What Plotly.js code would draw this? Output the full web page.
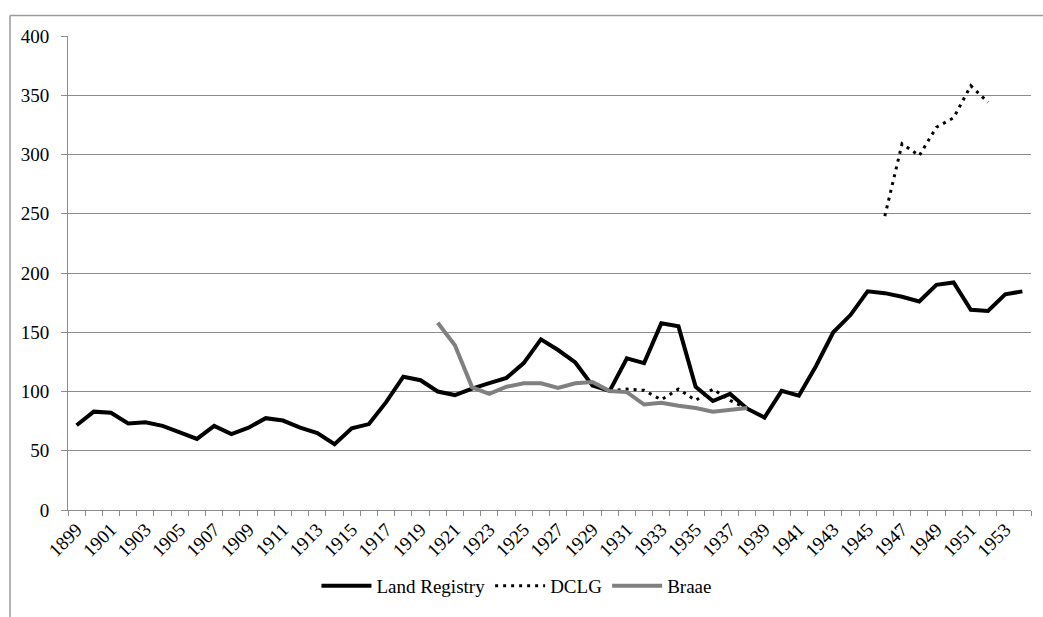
<!DOCTYPE html>
<html>
<head>
<meta charset="utf-8">
<script src="https://cdn.plot.ly/plotly-3.0.1.min.js"></script>
<style>
html,body{margin:0;padding:0;background:#fff;}
#chart{width:1043px;height:617px;}
#chart text{font-family:"Liberation Serif","Times New Roman",serif !important;}
</style>
</head>
<body>
<div id="chart"></div>
<script>
const years = [];
for (let y = 1899; y <= 1954; y++) years.push(y);

const landRegistry = [71.5,83,82,73,74,71,65.5,60,71,64,69.5,77.5,75.5,69.5,65,55.5,69,72.5,91,112.5,
  109.5,100,97,102.5,107,111.5,124,144,135,124.5,105,100.5,128,124,157.5,155,104,92,98,85.5,
  78,100.5,96.5,121.5,150,164.5,184.5,183,180,176,190,192,169,168,182,184.5];

const dclg = [null,null,null,null,null,null,null,null,null,null,null,null,null,null,null,null,null,null,null,null,
  null,null,null,null,null,null,null,null,null,null,null,100.5,102,101,93,102,92.5,102,92.5,85.5,
  null,null,null,null,null,null,null,248,309,299,323,331,358,344,null,null];

const braae = [null,null,null,null,null,null,null,null,null,null,null,null,null,null,null,null,null,null,null,null,
  null,158,139,103.5,98,104,107,107,103,107,108,100.5,99.5,89,90.5,88,86,83,84.5,86,
  null,null,null,null,null,null,null,null,null,null,null,null,null,null,null,null];

const labelYears = years.filter(y => (y - 1899) % 2 === 0);
const FONT = "Liberation Serif";

const traces = [
  {x: years, y: landRegistry, name: "Land Registry", type: "scatter", mode: "lines",
   line: {color: "#000000", width: 4}, connectgaps: false},
  {x: years, y: dclg, name: "DCLG", type: "scatter", mode: "lines",
   line: {color: "#000000", width: 3, dash: "3px,5px"}, connectgaps: false},
  {x: years, y: braae, name: "Braae", type: "scatter", mode: "lines",
   line: {color: "#808080", width: 4}, connectgaps: false}
];

const layout = {
  width: 1043, height: 617,
  margin: {l: 68, r: 12, t: 36, b: 105},
  paper_bgcolor: "#ffffff", plot_bgcolor: "#ffffff",
  font: {family: FONT, size: 19, color: "#000000"},
  showlegend: true,
  legend: {orientation: "h", x: 0.258, xanchor: "left", y: -0.16, yanchor: "middle",
           font: {family: FONT, size: 19, color: "#000000"}, itemwidth: 50,
           bgcolor: "rgba(0,0,0,0)"},
  xaxis: {
    range: [1898.5, 1954.5], tickmode: "array", tickvals: labelYears,
    ticktext: labelYears.map(String), tickangle: -45,
    ticks: "", showgrid: false, zeroline: false,
    showline: true, linecolor: "#8c8c8c", linewidth: 1,
    tickfont: {family: FONT, size: 19, color: "#000000"},
    minor: {tickmode: "linear", tick0: 1898.5, dtick: 1, ticks: "outside", ticklen: 5,
            tickcolor: "#8c8c8c", tickwidth: 1, showgrid: false}
  },
  yaxis: {
    range: [0, 400], dtick: 50, tick0: 0,
    ticks: "outside", ticklen: 6, tickcolor: "#8c8c8c", tickwidth: 1,
    showgrid: true, gridcolor: "#8c8c8c", gridwidth: 1,
    zeroline: false, showline: true, linecolor: "#8c8c8c", linewidth: 1,
    tickfont: {family: FONT, size: 19, color: "#000000"},
    ticklabelstandoff: 8
  },
  shapes: [
    {type: "line", xref: "paper", yref: "paper", x0: -0.0602, x1: -0.0602, y0: 1.043, y1: -0.23,
     line: {color: "#9a9a9a", width: 1.5}},
    {type: "line", xref: "paper", yref: "paper", x0: -0.0602, x1: 1.02, y0: 1.043, y1: 1.043,
     line: {color: "#9a9a9a", width: 1.5}}
  ]
};

Plotly.newPlot("chart", traces, layout, {displayModeBar: false, staticPlot: true});
</script>
</body>
</html>
